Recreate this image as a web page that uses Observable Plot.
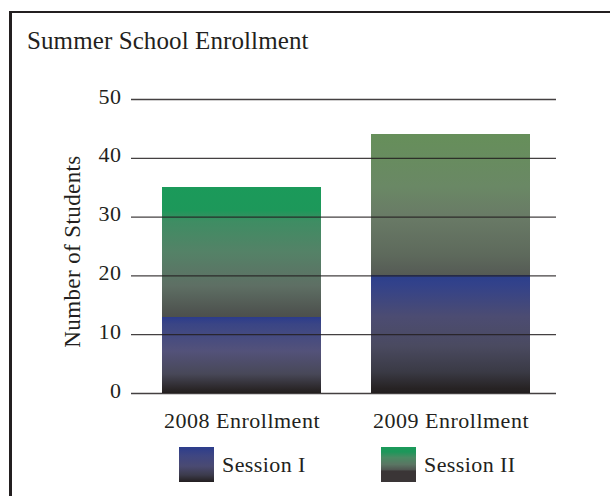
<!DOCTYPE html>
<html><head><meta charset="utf-8">
<script src="https://cdn.jsdelivr.net/npm/d3@7"></script>
<script src="https://cdn.jsdelivr.net/npm/@observablehq/plot@0.6"></script>
<style>
body{margin:0;background:#fff;width:610px;height:496px;overflow:hidden;position:relative;font-family:"Liberation Serif",serif;color:#231f20;}
#frame{position:absolute;left:9px;top:11px;width:640px;height:520px;border-top:2.5px solid #231f20;border-left:3px solid #231f20;box-sizing:border-box;}
#title{position:absolute;left:27px;top:27.6px;font-size:25px;line-height:25px;letter-spacing:0.1px;white-space:nowrap;}
#ylabel{position:absolute;left:-77.8px;top:239.5px;width:300px;text-align:center;font-size:23px;line-height:23px;letter-spacing:0.4px;transform:rotate(-90deg);transform-origin:150px 11.5px;white-space:nowrap;}
#chart{position:absolute;left:0;top:0;}
.sw{position:absolute;width:35px;height:35px;top:447px;}
.lt{position:absolute;top:453.6px;font-size:22px;line-height:22px;letter-spacing:0.4px;white-space:nowrap;}
</style></head>
<body>
<div id="frame"></div>
<div id="chart"></div>
<div id="title"></div>
<div id="ylabel"></div>
<div id="legend"></div>
<script>
const titleText = "Summer School Enrollment";
const yLabelText = "Number of Students";
const years = ["2008 Enrollment", "2009 Enrollment"];
const sessions = ["Session I", "Session II"];
const session1 = [13, 20];
const session2 = [22, 24];
const yTicks = [0, 10, 20, 30, 40, 50];

document.getElementById("title").textContent = titleText;
document.getElementById("ylabel").textContent = yLabelText;

const data = years.flatMap((yr, i) => [
  {year: yr, session: sessions[0], value: session1[i], grad: `s1-${i}`},
  {year: yr, session: sessions[1], value: session2[i], grad: `s2-${i}`}
]);

const gradients = {
  "s1-0": [[0,"#2b3b8c"],[0.1,"#3a4585"],[0.45,"#53527a"],[0.75,"#484858"],[0.95,"#2a2628"],[1,"#231f20"]],
  "s1-1": [[0,"#2c3f8c"],[0.08,"#33428a"],[0.35,"#4c4c72"],[0.6,"#4a4a60"],[0.82,"#3a3a45"],[0.96,"#272324"],[1,"#231f20"]],
  "s2-0": [[0,"#1b9a5a"],[0.18,"#1d985a"],[0.26,"#3e8d63"],[0.5,"#548267"],[0.76,"#5e6f64"],[0.96,"#4f5450"],[1,"#4d504d"]],
  "s2-1": [[0,"#668f5a"],[0.37,"#6a8865"],[0.59,"#697a66"],[0.85,"#5e6a5c"],[1,"#555a55"]]
};

const chart = Plot.plot({
  width: 610,
  height: 440,
  marginLeft: 131,
  marginRight: 54,
  marginTop: 99,
  marginBottom: 47,
  style: {fontFamily: "'Liberation Serif', serif", fontSize: "22px", color: "#231f20", letterSpacing: "0.5px", background: "transparent"},
  x: {domain: years, range: [161, 531], paddingInner: 0.238, paddingOuter: 0},
  y: {domain: [0, 50]},
  color: {type: "identity"},
  marks: [
    Plot.barY(data, {x: "year", y: "value", fill: d => `url(#${d.grad})`, inset: 0, shapeRendering: "crispEdges"}),
    Plot.ruleY(yTicks, {stroke: "#231f20", strokeWidth: 1.3, strokeOpacity: 0.85}),
    Plot.axisY({ticks: yTicks, tickSize: 0, tickPadding: 10, dy: -3, label: null, fill: "#231f20"}),
    Plot.axisX({tickSize: 0, tickPadding: 18.4, label: null, fill: "#231f20"})
  ]
});

const defs = d3.select(chart).insert("defs", ":first-child");
for (const [id, stops] of Object.entries(gradients)) {
  const g = defs.append("linearGradient").attr("id", id).attr("x1", 0).attr("y1", 0).attr("x2", 0).attr("y2", 1);
  for (const [o, c] of stops) g.append("stop").attr("offset", o).attr("stop-color", c);
}
document.getElementById("chart").appendChild(chart);

// legend
const legend = document.getElementById("legend");
const swatchCss = [
  "linear-gradient(to bottom,#2c3d8c 0%,#3f4682 25%,#4a4a72 55%,#3c3b4c 80%,#231f20 100%)",
  "linear-gradient(to bottom,#1b9a5a 0%,#1d975a 14%,#4a8a63 30%,#5a7563 50%,#4f5450 66%,#3a3536 68%,#3a3536 100%)"
];
const swLeft = [179, 381];
const txtLeft = [222, 424];
sessions.forEach((s, i) => {
  const sw = document.createElement("div");
  sw.className = "sw";
  sw.style.left = swLeft[i] + "px";
  sw.style.background = swatchCss[i];
  legend.appendChild(sw);
  const t = document.createElement("div");
  t.className = "lt";
  t.style.left = txtLeft[i] + "px";
  t.textContent = s;
  legend.appendChild(t);
});
</script>
</body></html>
